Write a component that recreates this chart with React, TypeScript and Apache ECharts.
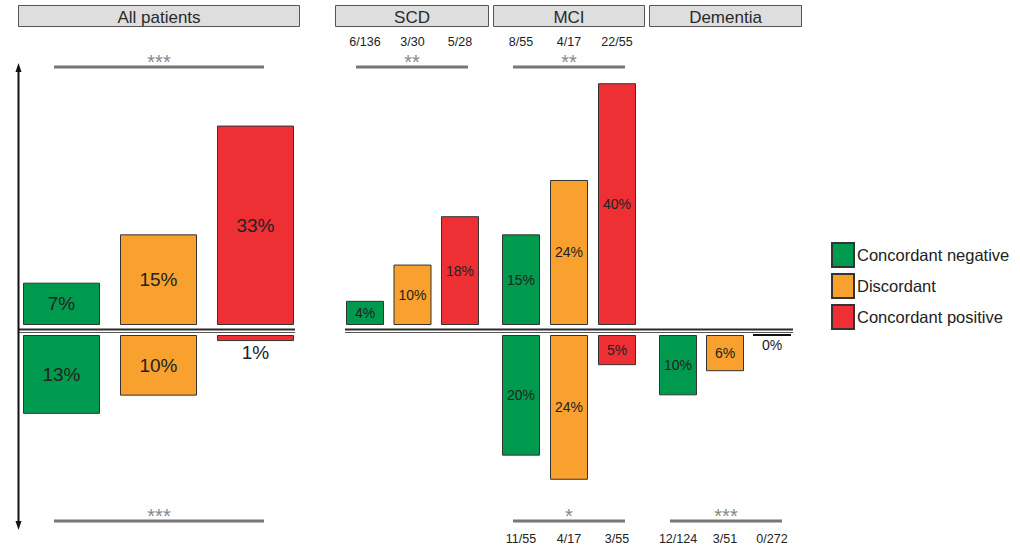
import React, { useEffect, useRef } from "react";
import * as echarts from "echarts";

// Outcome groups (one colour each)
const groups = ["Concordant negative", "Discordant", "Concordant positive"];
const groupColors = ["#009a4e", "#f8a12e", "#ee3035"];

// Panel titles
const panelTitles = ["All patients", "SCD", "MCI", "Dementia"];

// Percentages above the baseline
const allUpper = [7, 15, 33];
const scdUpper = [4, 10, 18];
const mciUpper = [15, 24, 40];
// Percentages below the baseline
const allLower = [13, 10, 1];
const mciLower = [20, 24, 5];
const dementiaLower = [10, 6, 0];

// n / N counts printed above / below the bars
const scdCountsTop = ["6/136", "3/30", "5/28"];
const mciCountsTop = ["8/55", "4/17", "22/55"];
const mciCountsBottom = ["11/55", "4/17", "3/55"];
const dementiaCountsBottom = ["12/124", "3/51", "0/272"];

// Significance markers
const sigTop = ["***", "**", "**"];
const sigBottom = ["***", "*", "***"];

const FONT = "'Liberation Sans', Arial, Helvetica, sans-serif";

const UP_TOP = 47;
const UP_H = 278;
const UP_MAX = 46;
const LOW_TOP = 335;
const LOW_H = 194;
const LOW_MAX = 32;

type Panel = {
  values: number[];
  upper: boolean;
  left: number;
  width: number;
  barWidth: number;
  fontSize: number;
  counts?: string[];
};

const panels: Panel[] = [
  { values: allUpper, upper: true, left: 13, width: 291, barWidth: 77, fontSize: 19 },
  { values: allLower, upper: false, left: 13, width: 291, barWidth: 77, fontSize: 19 },
  { values: scdUpper, upper: true, left: 341.25, width: 142.5, barWidth: 38, fontSize: 14, counts: scdCountsTop },
  { values: mciUpper, upper: true, left: 497, width: 144, barWidth: 38, fontSize: 14, counts: mciCountsTop },
  { values: mciLower, upper: false, left: 497, width: 144, barWidth: 38, fontSize: 14, counts: mciCountsBottom },
  { values: dementiaLower, upper: false, left: 654.5, width: 141, barWidth: 38, fontSize: 14, counts: dementiaCountsBottom },
];

function buildOption(): echarts.EChartsOption {
  const grid = panels.map((p) => ({
    left: p.left,
    width: p.width,
    top: p.upper ? UP_TOP : LOW_TOP,
    height: p.upper ? UP_H : LOW_H,
  }));

  const xAxis = panels.map((p, i) => ({
    type: "category" as const,
    gridIndex: i,
    data: p.counts ?? groups,
    show: !!p.counts,
    position: p.upper ? ("top" as const) : ("bottom" as const),
    axisLine: { show: false, onZero: false },
    axisTick: { show: false },
    axisLabel: {
      margin: p.upper ? -1 : 4,
      fontSize: 12.5,
      color: "#222",
      fontFamily: FONT,
      interval: 0,
    },
  }));

  const yAxis = panels.map((p, i) => ({
    type: "value" as const,
    gridIndex: i,
    min: 0,
    max: p.upper ? UP_MAX : LOW_MAX,
    inverse: !p.upper,
    show: false,
    splitLine: { show: false },
  }));

  const series: any[] = [];
  panels.forEach((p, gi) => {
    groups.forEach((name, k) => {
      series.push({
        type: "bar",
        name,
        xAxisIndex: gi,
        yAxisIndex: gi,
        stack: "panel" + gi,
        barWidth: p.barWidth,
        itemStyle: { color: groupColors[k], borderColor: "#333", borderWidth: 1 },
        label: {
          show: true,
          formatter: "{c}%",
          fontSize: p.fontSize,
          fontFamily: FONT,
          color: "#222",
        },
        data: p.values.map((v, i) =>
          i === k
            ? {
                value: v,
                // an empty bar shows as a plain dark rule
                itemStyle: v === 0 ? { borderColor: "#111", borderWidth: 2 } : undefined,
                label: { position: v < 3 ? "bottom" : "inside", distance: 2 },
              }
            : "-"
        ),
      });
    });
  });

  const sigLine = (x1: number, x2: number, y: number, stars: string) => [
    {
      type: "line",
      shape: { x1, y1: y, x2, y2: y },
      style: { stroke: "#777", lineWidth: 3 },
    },
    {
      type: "text",
      x: (x1 + x2) / 2,
      y: y - 5.5,
      style: {
        text: stars,
        fill: "#888",
        font: `20px ${FONT}`,
        align: "center",
        verticalAlign: "middle",
      },
    },
  ];

  const header = (x1: number, x2: number, title: string) => ({
    type: "group",
    children: [
      {
        type: "rect",
        shape: { x: x1, y: 5.5, width: x2 - x1, height: 21 },
        style: { fill: "#dedede", stroke: "#555", lineWidth: 1 },
      },
      {
        type: "text",
        x: (x1 + x2) / 2,
        y: 17,
        style: {
          text: title,
          fill: "#2a2a2a",
          font: `17px ${FONT}`,
          align: "center",
          verticalAlign: "middle",
        },
      },
    ],
  });

  const baseline = (x1: number, x2: number) => [
    { type: "line", shape: { x1, y1: 329.5, x2, y2: 329.5 }, style: { stroke: "#2a2a2a", lineWidth: 2 } },
    { type: "line", shape: { x1, y1: 332.5, x2, y2: 332.5 }, style: { stroke: "#555", lineWidth: 1 } },
  ];

  const graphic: any[] = [
    header(18.5, 299.5, panelTitles[0]),
    header(335.5, 488.5, panelTitles[1]),
    header(493.5, 644.5, panelTitles[2]),
    header(649.5, 801.5, panelTitles[3]),
    ...baseline(18, 295),
    ...baseline(345, 793),
    ...sigLine(54, 264, 67, sigTop[0]),
    ...sigLine(356, 468, 67, sigTop[1]),
    ...sigLine(513, 625, 67, sigTop[2]),
    ...sigLine(54, 264, 521, sigBottom[0]),
    ...sigLine(513, 625, 521, sigBottom[1]),
    ...sigLine(670, 782, 521, sigBottom[2]),
    // double-headed vertical arrow
    { type: "line", shape: { x1: 18.5, y1: 70, x2: 18.5, y2: 523 }, style: { stroke: "#111", lineWidth: 2 } },
    { type: "polygon", shape: { points: [[18.5, 63], [15.5, 72], [21.5, 72]] }, style: { fill: "#111" } },
    { type: "polygon", shape: { points: [[18.5, 530], [15.5, 521], [21.5, 521]] }, style: { fill: "#111" } },
  ];

  return {
    animation: false,
    backgroundColor: "#fff",
    textStyle: { fontFamily: FONT },
    legend: {
      orient: "vertical",
      left: 831,
      top: 242,
      padding: 0,
      itemWidth: 22,
      itemHeight: 24,
      itemGap: 5,
      icon: "rect",
      selectedMode: false,
      data: groups,
      textStyle: { fontSize: 16.5, color: "#222", fontFamily: FONT, padding: [0, 0, 0, -2] },
    },
    grid,
    xAxis,
    yAxis,
    series,
    graphic,
  };
}

export default function App() {
  const ref = useRef<HTMLDivElement>(null);
  useEffect(() => {
    if (!ref.current) return;
    const chart = echarts.init(ref.current, undefined, { renderer: "svg" });
    chart.setOption(buildOption());
    return () => chart.dispose();
  }, []);
  return (
    <div
      ref={ref}
      style={{ position: "fixed", left: 0, top: 0, width: 1020, height: 545, background: "#fff" }}
    />
  );
}
